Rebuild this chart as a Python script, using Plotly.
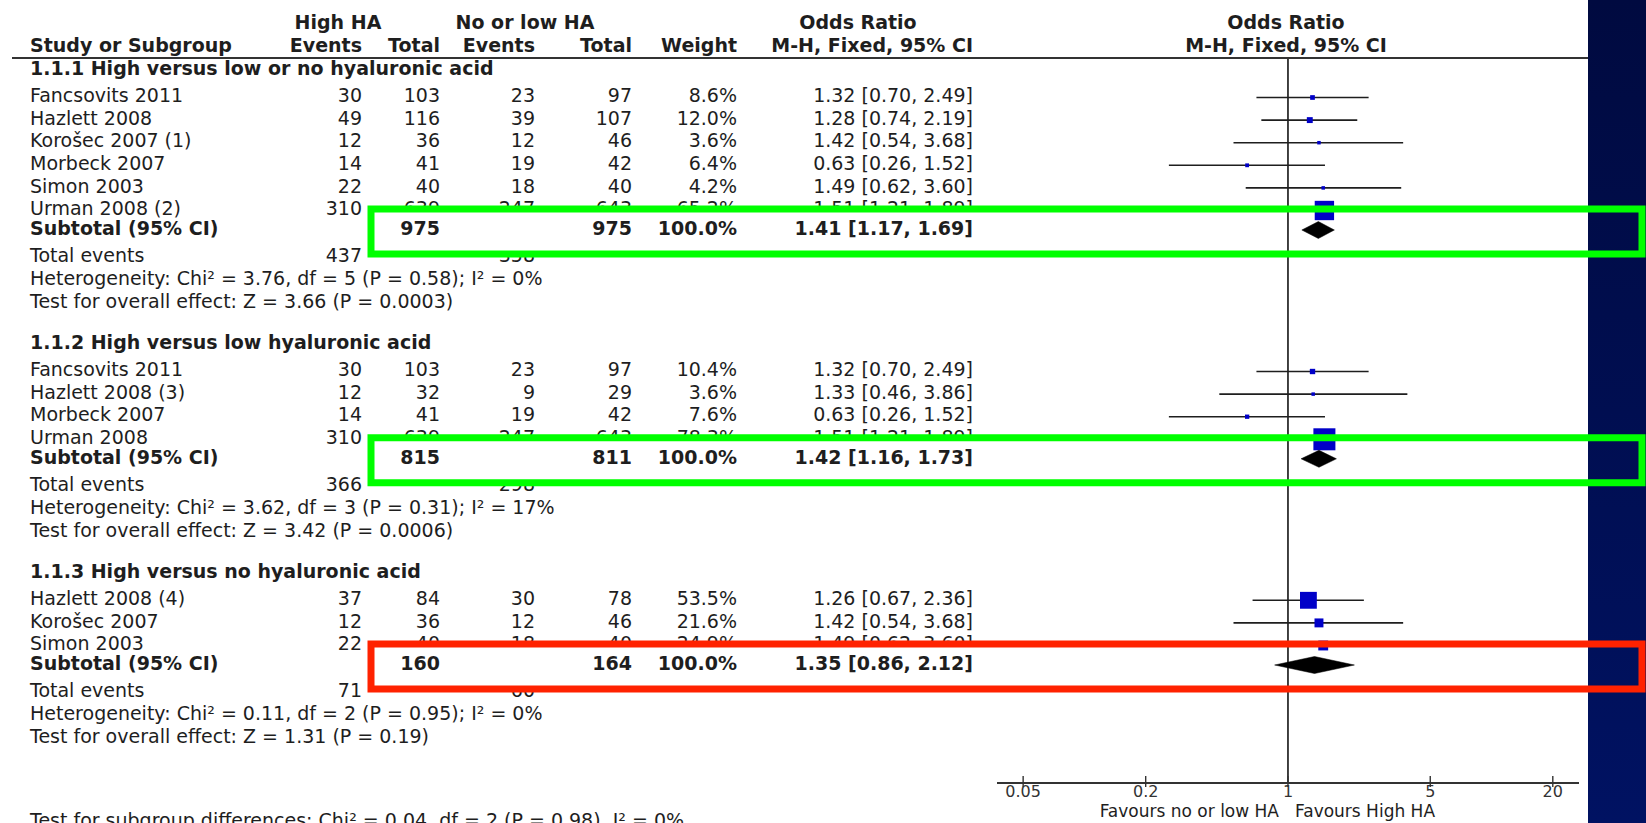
import math
import plotly.graph_objects as go

W, H = 1646, 823

# ---------------- data ----------------
group_title = [
    "1.1.1 High versus low or no hyaluronic acid",
    "1.1.2 High versus low hyaluronic acid",
    "1.1.3 High versus no hyaluronic acid",
]
study = [
    "Fancsovits 2011", "Hazlett 2008", "Korošec 2007 (1)", "Morbeck 2007", "Simon 2003", "Urman 2008 (2)",
    "Fancsovits 2011", "Hazlett 2008 (3)", "Morbeck 2007", "Urman 2008",
    "Hazlett 2008 (4)", "Korošec 2007", "Simon 2003",
]
study_group = [0, 0, 0, 0, 0, 0, 1, 1, 1, 1, 2, 2, 2]
ev_high = [30, 49, 12, 14, 22, 310, 30, 12, 14, 310, 37, 12, 22]
tot_high = [103, 116, 36, 41, 40, 639, 103, 32, 41, 639, 84, 36, 40]
ev_low = [23, 39, 12, 19, 18, 247, 23, 9, 19, 247, 30, 12, 18]
tot_low = [97, 107, 46, 42, 40, 643, 97, 29, 42, 643, 78, 46, 40]
weight = [8.6, 12.0, 3.6, 6.4, 4.2, 65.2, 10.4, 3.6, 7.6, 78.3, 53.5, 21.6, 24.9]
odds = [1.32, 1.28, 1.42, 0.63, 1.49, 1.51, 1.32, 1.33, 0.63, 1.51, 1.26, 1.42, 1.49]
ci_low = [0.70, 0.74, 0.54, 0.26, 0.62, 1.21, 0.70, 0.46, 0.26, 1.21, 0.67, 0.54, 0.62]
ci_high = [2.49, 2.19, 3.68, 1.52, 3.60, 1.89, 2.49, 3.86, 1.52, 1.89, 2.36, 3.68, 3.60]

sub_tot_high = [975, 815, 160]
sub_tot_low = [975, 811, 164]
sub_odds = [1.41, 1.42, 1.35]
sub_low = [1.17, 1.16, 0.86]
sub_high = [1.69, 1.73, 2.12]
events_high = [437, 366, 71]
events_low = [358, 298, 60]
heterogeneity = [
    "Heterogeneity: Chi² = 3.76, df = 5 (P = 0.58); I² = 0%",
    "Heterogeneity: Chi² = 3.62, df = 3 (P = 0.31); I² = 17%",
    "Heterogeneity: Chi² = 0.11, df = 2 (P = 0.95); I² = 0%",
]
overall_effect = [
    "Test for overall effect: Z = 3.66 (P = 0.0003)",
    "Test for overall effect: Z = 3.42 (P = 0.0006)",
    "Test for overall effect: Z = 1.31 (P = 0.19)",
]
subgroup_diff = "Test for subgroup differences: Chi² = 0.04, df = 2 (P = 0.98), I² = 0%"
axis_ticks = [0.05, 0.2, 1, 5, 20]
axis_tick_text = ["0.05", "0.2", "1", "5", "20"]
favours = ["Favours no or low HA", "Favours High HA"]
highlight_colors = ["#00ff00", "#00ff00", "#ff2200"]

# ---------------- styling / geometry ----------------
FONT = "DejaVu Sans"
FS = 19
TXT = "#1e1e1e"
COL = dict(label=30, ev_high=362, tot_high=440, ev_low=535, tot_low=632, weight=737, ci=973)
BOX_LEFT, BOX_RIGHT, BOX_FILL_RIGHT = 371, 1642, 990
RULE_Y, AXIS_Y = 58, 782
BAND_X = 1588
ROW = 22.6
LOG_RANGE = [math.log10(0.0372), math.log10(26.9)]
PLOT_DOMAIN = [997 / W, 1579 / W]

# row layout
study_y = [0.0] * len(study)
group_y, sub_y, events_y, het_y, test_y = [], [], [], [], []
y = 70.0
for g in range(len(group_title)):
    group_y.append(y)
    idx = [i for i in range(len(study)) if study_group[i] == g]
    y += 27.5
    for k, i in enumerate(idx):
        if k:
            y += ROW
        study_y[i] = y
    y += 19.5
    sub_y.append(y)
    y += 27
    events_y.append(y)
    y += 23
    het_y.append(y)
    y += 23
    test_y.append(y)
    y += 41
last_in_group = [max(i for i in range(len(study)) if study_group[i] == g) for g in range(len(group_title))]

fig = go.Figure()


def text_trace(xs, ys, texts, pos, bold=False, size=FS, color=TXT, axes=("x2", "y2")):
    fig.add_trace(go.Scatter(
        x=xs, y=ys, text=texts, mode="text", textposition=pos,
        textfont=dict(family=FONT, size=size, color=color, weight="bold" if bold else "normal"),
        xaxis=axes[0], yaxis=axes[1], hoverinfo="skip", showlegend=False, cliponaxis=False))


def fmt_ci(o, lo, hi):
    return f"{o:.2f} [{lo:.2f}, {hi:.2f}]"


# dark band on the right edge
fig.add_trace(go.Scatter(
    x=[BAND_X, W, W, BAND_X, BAND_X], y=[0, 0, H, H, 0], mode="lines", fill="toself",
    line=dict(width=0), fillcolor="#000c4c",
    fillgradient=dict(type="vertical", colorscale=[[0, "#000a40"], [1, "#001262"]], start=0, stop=H),
    xaxis="x2", yaxis="y2", hoverinfo="skip", showlegend=False))

# cells that sit under the highlight boxes
hx, hy, ht = [], [], []
for g, i in enumerate(last_in_group):
    for key, val in (("tot_high", tot_high[i]), ("ev_low", ev_low[i]), ("tot_low", tot_low[i]),
                     ("weight", f"{weight[i]:.1f}%"), ("ci", fmt_ci(odds[i], ci_low[i], ci_high[i]))):
        hx.append(COL[key]); hy.append(study_y[i]); ht.append(str(val))
    hx.append(COL["ev_low"]); hy.append(events_y[g]); ht.append(str(events_low[g]))
text_trace(hx, hy, ht, "middle left")

# opaque interior of the highlight boxes over the table columns
for g in range(len(group_title)):
    y0, y1 = sub_y[g] - 21, sub_y[g] + 24
    fig.add_trace(go.Scatter(
        x=[BOX_LEFT, BOX_FILL_RIGHT, BOX_FILL_RIGHT, BOX_LEFT, BOX_LEFT], y=[y0, y0, y1, y1, y0],
        mode="lines", fill="toself", fillcolor="white", line=dict(width=0),
        xaxis="x2", yaxis="y2", hoverinfo="skip", showlegend=False))

# column headers
text_trace([338, 525, 858, 1286], [24] * 4, ["High HA", "No or low HA", "Odds Ratio", "Odds Ratio"],
           "middle center", bold=True)
text_trace([COL["label"]], [47], ["Study or Subgroup"], "middle right", bold=True)
text_trace([COL["ev_high"], COL["tot_high"], COL["ev_low"], COL["tot_low"], COL["weight"], COL["ci"]],
           [47] * 6, ["Events", "Total", "Events", "Total", "Weight", "M-H, Fixed, 95% CI"],
           "middle left", bold=True)
text_trace([1286], [47], ["M-H, Fixed, 95% CI"], "middle center", bold=True)

# group titles and subtotal labels
text_trace([COL["label"]] * 3, group_y, group_title, "middle right", bold=True)
text_trace([COL["label"]] * 3, sub_y, ["Subtotal (95% CI)"] * 3, "middle right", bold=True)

# study rows
lx, ly, lt = [], [], []
rx, ry, rt = [], [], []
for i in range(len(study)):
    lx.append(COL["label"]); ly.append(study_y[i]); lt.append(study[i])
    rx.append(COL["ev_high"]); ry.append(study_y[i]); rt.append(str(ev_high[i]))
    if i in last_in_group:
        continue
    for key, val in (("tot_high", tot_high[i]), ("ev_low", ev_low[i]), ("tot_low", tot_low[i]),
                     ("weight", f"{weight[i]:.1f}%"), ("ci", fmt_ci(odds[i], ci_low[i], ci_high[i]))):
        rx.append(COL[key]); ry.append(study_y[i]); rt.append(str(val))

# summary rows
for g in range(len(group_title)):
    lx += [COL["label"]] * 3
    ly += [events_y[g], het_y[g], test_y[g]]
    lt += ["Total events", heterogeneity[g], overall_effect[g]]
    rx.append(COL["ev_high"]); ry.append(events_y[g]); rt.append(str(events_high[g]))
text_trace(lx, ly, lt, "middle right")
text_trace(rx, ry, rt, "middle left")

# subtotal numbers
sx, sy, st = [], [], []
for g in range(len(group_title)):
    for key, val in (("tot_high", sub_tot_high[g]), ("tot_low", sub_tot_low[g]), ("weight", "100.0%"),
                     ("ci", fmt_ci(sub_odds[g], sub_low[g], sub_high[g]))):
        sx.append(COL[key]); sy.append(sub_y[g]); st.append(str(val))
text_trace(sx, sy, st, "middle left", bold=True)

# footer texts (the last line runs off the bottom edge)
text_trace([1279], [812.5], [favours[0]], "middle left", size=17)
text_trace([1295], [812.5], [favours[1]], "middle right", size=17)
text_trace([COL["label"]], [H - 0.5], [subgroup_diff], "middle right")

# axis tick labels, on a log axis that spans the whole height
text_trace(axis_ticks, [AXIS_Y + 11] * len(axis_ticks), axis_tick_text, "middle center",
           size=16, color="#333", axes=("x3", "y2"))

# ---------------- forest plot ----------------
fig.add_trace(go.Scatter(x=[1, 1], y=[RULE_Y, AXIS_Y], mode="lines",
                         line=dict(color="#2e2e2e", width=1.8), hoverinfo="skip", showlegend=False))
cx, cy = [], []
for i in range(len(study)):
    cx += [ci_low[i], ci_high[i], None]
    cy += [study_y[i], study_y[i], None]
fig.add_trace(go.Scatter(x=cx, y=cy, mode="lines", line=dict(color="#1e1e1e", width=1.6),
                         hoverinfo="skip", showlegend=False))
fig.add_trace(go.Scatter(
    x=odds, y=study_y, mode="markers",
    marker=dict(symbol="square", color="#0000c8", opacity=1,
                size=[max(3.5, 1.04 * w ** 0.7) for w in weight], line=dict(width=0)),
    hoverinfo="skip", showlegend=False))
for g in range(len(group_title)):
    s = sub_y[g]
    fig.add_trace(go.Scatter(
        x=[sub_low[g], sub_odds[g], sub_high[g], sub_odds[g], sub_low[g]],
        y=[s, s - 8.5, s, s + 8.5, s], mode="lines", fill="toself",
        fillcolor="black", line=dict(color="black", width=0.5), hoverinfo="skip", showlegend=False))
# axis tick marks crossing the axis line
tx, ty = [], []
for v in axis_ticks:
    tx += [v, v, None]
    ty += [AXIS_Y - 6, AXIS_Y + 5, None]
fig.add_trace(go.Scatter(x=tx, y=ty, mode="lines", line=dict(color="#333", width=1.4),
                         xaxis="x3", yaxis="y2", hoverinfo="skip", showlegend=False))

# header rule and highlight boxes
shapes = [dict(type="line", xref="x2", yref="y2", x0=12, x1=BAND_X, y0=RULE_Y, y1=RULE_Y,
               line=dict(color="#333", width=2))]
for g in range(len(group_title)):
    shapes.append(dict(type="rect", xref="x2", yref="y2", x0=BOX_LEFT, x1=BOX_RIGHT,
                       y0=sub_y[g] - 21, y1=sub_y[g] + 24, layer="above",
                       line=dict(color=highlight_colors[g], width=7), fillcolor="rgba(0,0,0,0)"))

fig.update_layout(
    width=W, height=H, autosize=False, margin=dict(l=0, r=0, t=0, b=0),
    paper_bgcolor="white", plot_bgcolor="rgba(0,0,0,0)", showlegend=False, shapes=shapes,
    xaxis=dict(type="log", domain=PLOT_DOMAIN, range=LOG_RANGE,
               anchor="y", showline=True, linecolor="#333", linewidth=1.6, ticks="",
               showticklabels=False, showgrid=False, zeroline=False, fixedrange=True),
    yaxis=dict(domain=[(H - AXIS_Y) / H, 1], range=[AXIS_Y, 0], visible=False, anchor="x",
               fixedrange=True),
    xaxis2=dict(domain=[0, 1], range=[0, W], visible=False, anchor="y2", fixedrange=True),
    yaxis2=dict(domain=[0, 1], range=[H, 0], visible=False, anchor="x2", fixedrange=True),
    xaxis3=dict(type="log", domain=PLOT_DOMAIN, range=LOG_RANGE, visible=False, anchor="y2",
                fixedrange=True),
)

fig.write_html("out.html")
